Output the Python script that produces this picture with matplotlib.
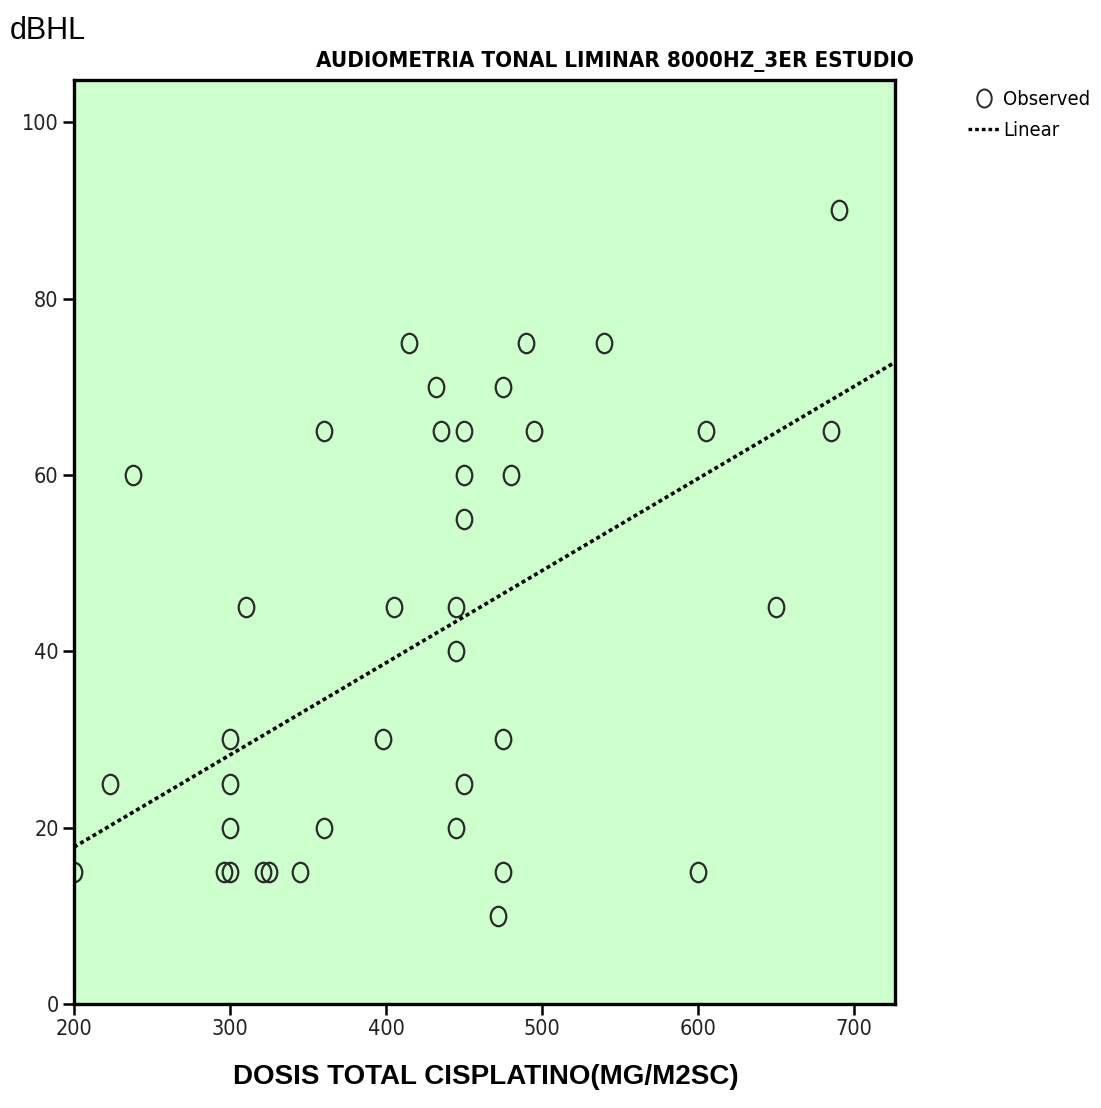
import numpy as np
import matplotlib
matplotlib.use("Agg")
from matplotlib import pyplot as plt
from matplotlib.path import Path
from matplotlib.lines import Line2D

# dosis total de cisplatino (mg/m2sc) y umbral a 8000 Hz (dBHL)
dosis = [200, 223, 238, 296, 300, 300, 300, 300, 310, 321, 325, 345, 360, 360,
         398, 405, 415, 432, 435, 445, 445, 445, 450, 450, 450, 450, 472, 475,
         475, 475, 480, 490, 495, 540, 600, 605, 650, 685, 690]
dbhl = [15, 25, 60, 15, 15, 20, 25, 30, 45, 15, 15, 15, 20, 65,
        30, 45, 75, 70, 65, 45, 40, 20, 65, 60, 55, 25, 10, 70,
        30, 15, 60, 75, 65, 75, 15, 65, 45, 65, 90]
# recta de regresión lineal (todos los casos): dBHL = a + b * dosis
fit_a = -3.1
fit_b = 0.1045
x_ticks = [200, 300, 400, 500, 600, 700]
y_ticks = [0, 20, 40, 60, 80, 100]

narrow = dict(family='DejaVu Sans', stretch='condensed')
arial = ['Liberation Sans', 'DejaVu Sans']

# marcador tipo "O", un poco más alto que ancho
circ = Path.unit_circle()
o_marker = Path(circ.vertices * np.array([0.8, 1.0]), circ.codes)

fig = plt.figure(figsize=(11.01, 11.08), dpi=100)
ax = fig.add_axes([74 / 1101, 104 / 1108, 821 / 1101, 924 / 1108])
ax.set_facecolor('#ccffcc')

ax.plot(dosis, dbhl, linestyle='none', marker=o_marker, markersize=14,
        markerfacecolor='none', markeredgecolor='#2a2a2a', markeredgewidth=1.6)

xmin, xmax = 200, 726.2
xs = np.array([xmin, xmax])
ax.plot(xs, fit_a + fit_b * xs, color='black', linewidth=2.6,
        linestyle=(0, (1.1, 0.9)))

ax.set_xlim(xmin, xmax)
ax.set_ylim(0, 104.8)
ax.set_xticks(x_ticks)
ax.set_yticks(y_ticks)
for sp in ax.spines.values():
    sp.set_linewidth(2.4)
    sp.set_color('black')
ax.tick_params(direction='out', length=8, width=1.8, labelsize=15.5, pad=3)
for lab in ax.get_xticklabels() + ax.get_yticklabels():
    lab.set_family(narrow['family'])
    lab.set_stretch(narrow['stretch'])
    lab.set_color('#222222')

fig.text(10 / 1101, 1 - 31 / 1108, 'dBHL', fontsize=22, family=arial,
         va='center', ha='left')
fig.text(615 / 1101, 1 - 62 / 1108, 'AUDIOMETRIA TONAL LIMINAR 8000HZ_3ER ESTUDIO',
         fontsize=16, fontweight='bold', va='center', ha='center', **narrow)
fig.text(486 / 1101, 1 - 1077 / 1108, 'DOSIS TOTAL CISPLATINO(MG/M2SC)',
         fontsize=20, fontweight='bold', family=arial, va='center', ha='center')

handles = [
    Line2D([], [], linestyle='none', marker=o_marker, markersize=13,
           markerfacecolor='none', markeredgecolor='#2a2a2a', markeredgewidth=1.4),
    Line2D([], [], color='black', linewidth=2.4, linestyle=(0, (1.1, 0.9))),
]
leg = fig.legend(handles, ['Observed', 'Linear'], loc='upper left',
                 bbox_to_anchor=(960 / 1101, 1 - 82 / 1108), frameon=False,
                 handlelength=1.6, handletextpad=0.15, labelspacing=0.6,
                 borderaxespad=0, prop={'family': narrow['family'],
                                        'stretch': narrow['stretch'], 'size': 14.5})

fig.savefig('out.png', dpi=100)
